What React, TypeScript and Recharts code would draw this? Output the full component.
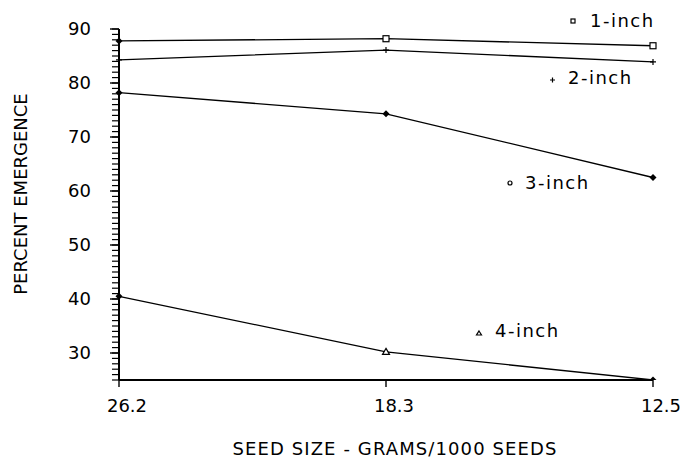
import React from 'react';
import { LineChart, Line, XAxis, YAxis } from 'recharts';

const categories = ['26.2', '18.3', '12.5'];
const oneInch = [87.8, 88.2, 86.9];
const twoInch = [84.3, 86.1, 83.9];
const threeInch = [78.2, 74.3, 62.5];
const fourInch = [40.5, 30.2, 25.0];
const yMajorLabels = [30, 40, 50, 60, 70, 80, 90];
const yMinorTicks: number[] = [];
for (let v = 25; v <= 90; v++) yMinorTicks.push(v);

const data = categories.map((c, i) => ({
  size: c,
  one: oneInch[i],
  two: twoInch[i],
  three: threeInch[i],
  four: fourInch[i],
}));

const FONT = "'DejaVu Sans', sans-serif";

const YTick = (props: any) => {
  const { x, y, payload } = props;
  const v = Number(payload.value);
  const major = yMajorLabels.includes(v);
  if (!major) return <g />;
  return (
    <g>
      <path d={`M${x - 2},${y}H${x + 7}`} stroke="#000" strokeWidth={1.4} fill="none" />
      <text x={x - 21} y={y} dy="0.36em" textAnchor="end" fontFamily={FONT} fontSize={18} fill="#000" stroke="none">
        {v}
      </text>
    </g>
  );
};

const XTick = (props: any) => {
  const { x, y, payload } = props;
  return (
    <text x={x + 8} y={y + 25} textAnchor="middle" fontFamily={FONT} fontSize={18} fill="#000" stroke="none">
      {payload.value}
    </text>
  );
};

const filled = (cx: number, cy: number, key: any) => (
  <path key={key} d={`M${cx},${cy - 3.5}L${cx + 3.5},${cy}L${cx},${cy + 3.5}L${cx - 3.5},${cy}Z`} fill="#000" />
);

const squareDot = (p: any) => {
  const { cx, cy, index } = p;
  if (index === 0) return filled(cx, cy, `s${index}`);
  return <rect key={`s${index}`} x={cx - 3} y={cy - 3} width={6} height={6} fill="#fff" stroke="#000" strokeWidth={1.2} />;
};
const plusDot = (p: any) => {
  const { cx, cy, index } = p;
  return (
    <path key={`p${index}`} d={`M${cx - 3},${cy}L${cx + 3},${cy}M${cx},${cy - 3}L${cx},${cy + 3}`} stroke="#000" strokeWidth={1.2} />
  );
};
const diamondDot = (p: any) => {
  const { cx, cy, index } = p;
  return filled(cx, cy, `d${index}`);
};
const triDot = (p: any) => {
  const { cx, cy, index } = p;
  if (index !== 1) return filled(cx, cy, `t${index}`);
  return <path key={`t${index}`} d={`M${cx},${cy - 3.5}L${cx + 3.5},${cy + 2.5}L${cx - 3.5},${cy + 2.5}Z`} fill="#fff" stroke="#000" strokeWidth={1.2} />;
};

const txt = { fontFamily: FONT, fontSize: 18, fill: '#000' };

export default function App() {
  return (
    <div style={{ position: 'absolute', left: 0, top: 0, width: 681, height: 464, background: '#fff' }}>
      <LineChart width={681} height={464} data={data} margin={{ top: 29, right: 28, bottom: 54, left: 59 }}>
        <XAxis
          dataKey="size"
          height={30}
          axisLine={{ stroke: '#000', strokeWidth: 2 }}
          tickLine={{ stroke: '#000', strokeWidth: 1.4 }}
          tickSize={7}
          tickMargin={0}
          tick={<XTick />}
          interval={0}
        />
        <YAxis
          width={60}
          type="number"
          domain={[25, 90]}
          ticks={yMinorTicks}
          interval={0}
          allowDataOverflow
          axisLine={{ stroke: '#000', strokeWidth: 2 }}
          tickLine={{ stroke: '#000', strokeWidth: 1.2 }}
          tickSize={7}
          tickMargin={0}
          tick={<YTick />}
        />
        <Line dataKey="one" stroke="#000" strokeWidth={1.3} dot={squareDot} isAnimationActive={false} />
        <Line dataKey="two" stroke="#000" strokeWidth={1.3} dot={plusDot} isAnimationActive={false} />
        <Line dataKey="three" stroke="#000" strokeWidth={1.3} dot={diamondDot} isAnimationActive={false} />
        <Line dataKey="four" stroke="#000" strokeWidth={1.3} dot={triDot} isAnimationActive={false} />
      </LineChart>
      <svg width={681} height={464} style={{ position: 'absolute', left: 0, top: 0, pointerEvents: 'none' }}>
        <rect x={571} y={19} width={4} height={4} fill="#fff" stroke="#000" strokeWidth={1.2} />
        <text x={590} y={27} letterSpacing={1.5} {...txt}>1-inch</text>
        <path d="M550,80L555,80M552.5,77.5L552.5,82.5" stroke="#000" strokeWidth={1.2} />
        <text x={568} y={84} letterSpacing={1.5} {...txt}>2-inch</text>
        <circle cx={510} cy={183} r={2} fill="#fff" stroke="#000" strokeWidth={1.2} />
        <text x={525} y={189} letterSpacing={1.5} {...txt}>3-inch</text>
        <path d="M479,331L481.5,335L476.5,335Z" fill="#fff" stroke="#000" strokeWidth={1.2} />
        <text x={495} y={337} letterSpacing={1.5} {...txt}>4-inch</text>
        <text x={395} y={455} textAnchor="middle" letterSpacing={1.1} {...txt}>SEED SIZE - GRAMS/1000 SEEDS</text>
        <text x={0} y={0} textAnchor="middle" transform="translate(27,194) rotate(-90)" {...txt}>PERCENT EMERGENCE</text>
      </svg>
    </div>
  );
}
